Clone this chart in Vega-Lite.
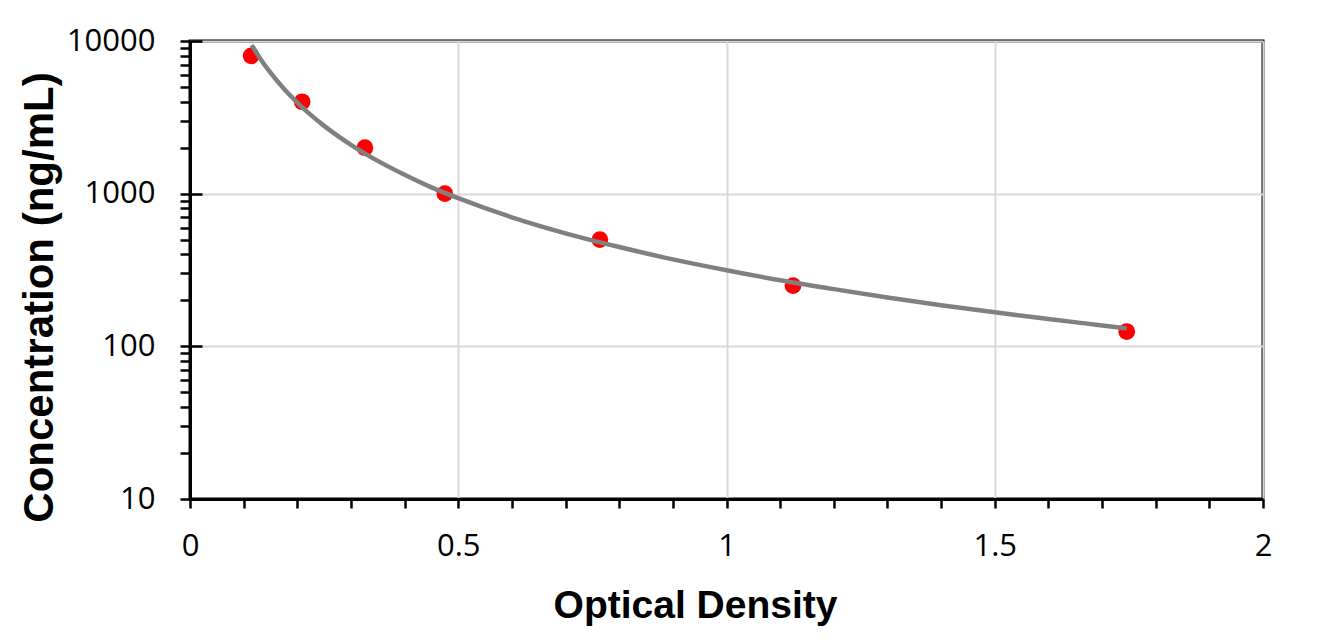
{
  "$schema": "https://vega.github.io/schema/vega-lite/v6.json",
  "width": 1073,
  "height": 458,
  "autosize": {"type": "none"},
  "padding": {"left": 190, "top": 41, "right": 65, "bottom": 141},
  "background": "white",
  "config": {
    "view": {"stroke": "black", "strokeWidth": 3},
    "axis": {
      "domainColor": "black",
      "domainWidth": 3,
      "tickColor": "black",
      "tickWidth": 2.5,
      "labelFont": "Open Sans",
      "labelFontSize": 31,
      "labelColor": "black",
      "titleFont": "Liberation Sans",
      "titleFontWeight": "bold",
      "titleColor": "black",
      "gridColor": "#d9d9d9",
      "gridWidth": 2
    }
  },
  "datasets": {
    "curve": [
      {"od": 0.115, "conc": 9400},
      {"od": 0.13, "conc": 7750},
      {"od": 0.15, "conc": 6200},
      {"od": 0.175, "conc": 4860},
      {"od": 0.2, "conc": 3950},
      {"od": 0.225, "conc": 3280},
      {"od": 0.25, "conc": 2780},
      {"od": 0.3, "conc": 2090},
      {"od": 0.35, "conc": 1640},
      {"od": 0.4, "conc": 1330},
      {"od": 0.45, "conc": 1100},
      {"od": 0.5, "conc": 935},
      {"od": 0.6, "conc": 700},
      {"od": 0.7, "conc": 550},
      {"od": 0.8, "conc": 447},
      {"od": 0.9, "conc": 371},
      {"od": 1.0, "conc": 315},
      {"od": 1.1, "conc": 271},
      {"od": 1.2, "conc": 237},
      {"od": 1.3, "conc": 209},
      {"od": 1.4, "conc": 186},
      {"od": 1.5, "conc": 167},
      {"od": 1.6, "conc": 151},
      {"od": 1.7, "conc": 137},
      {"od": 1.746, "conc": 131}
    ],
    "points": [
      {"od": 0.114, "conc": 8000},
      {"od": 0.209, "conc": 4000},
      {"od": 0.326, "conc": 2000},
      {"od": 0.475, "conc": 1000},
      {"od": 0.764, "conc": 500},
      {"od": 1.124, "conc": 250},
      {"od": 1.746, "conc": 125}
    ]
  },
  "resolve": {"axis": {"y": "independent"}},
  "layer": [
    {
      "data": {"name": "points"},
      "mark": {"type": "circle", "color": "#ff0000", "opacity": 1, "size": 280},
      "encoding": {
        "x": {
          "field": "od", "type": "quantitative",
          "scale": {"domain": [0, 2], "nice": false, "zero": false},
          "axis": {
            "values": [0, 0.1, 0.2, 0.3, 0.4, 0.5, 0.6, 0.7, 0.8, 0.9, 1, 1.1, 1.2, 1.3, 1.4, 1.5, 1.6, 1.7, 1.8, 1.9, 2],
            "labelExpr": "abs(datum.value*2 - round(datum.value*2)) < 0.001 ? format(datum.value, '~g') : ''",
            "labelOverlap": false,
            "labelBound": false,
            "labelFlush": false,
            "tickSize": 9,
            "labelPadding": 23,
            "grid": true,
            "gridOpacity": {"condition": {"test": "abs(datum.value*2 - round(datum.value*2)) < 0.001", "value": 1}, "value": 0},
            "title": "Optical Density",
            "titleFontSize": 39,
            "titleBaseline": "alphabetic",
            "titleX": 505,
            "titleY": 118
          }
        },
        "y": {
          "field": "conc", "type": "quantitative",
          "scale": {"type": "log", "domain": [10, 10000], "nice": false},
          "axis": {
            "orient": "left",
            "values": [100, 1000, 10000],
            "tickSize": -12,
            "labels": false,
            "domain": false,
            "grid": true,
            "title": null
          }
        }
      }
    },
    {
      "data": {"name": "curve"},
      "mark": {"type": "line", "color": "#808080", "strokeWidth": 4.5, "interpolate": "monotone"},
      "encoding": {
        "x": {"field": "od", "type": "quantitative"},
        "y": {
          "field": "conc", "type": "quantitative",
          "axis": {
            "orient": "left",
            "values": [10, 20, 30, 40, 50, 60, 70, 80, 90, 100, 200, 300, 400, 500, 600, 700, 800, 900, 1000, 2000, 3000, 4000, 5000, 6000, 7000, 8000, 9000, 10000],
            "labelExpr": "(datum.value == 10 || datum.value == 100 || datum.value == 1000 || datum.value == 10000) ? format(datum.value, 'd') : ''",
            "labelOverlap": false,
            "labelBound": false,
            "labelFlush": false,
            "tickSize": 10,
            "labelPadding": 25,
            "grid": false,
            "title": "Concentration (ng/mL)",
            "titleFontSize": 42,
            "titleAngle": -90,
            "titleBaseline": "alphabetic",
            "titleAlign": "center",
            "titleX": -138,
            "titleY": 256
          }
        }
      }
    }
  ]
}
